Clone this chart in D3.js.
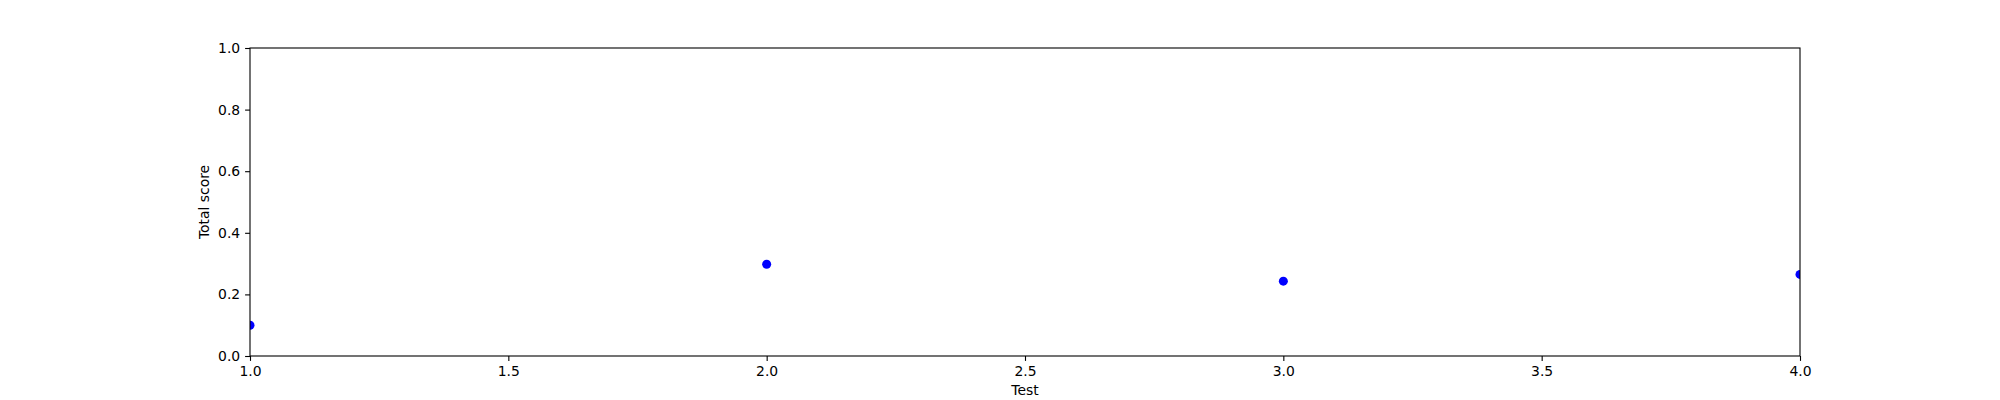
<!DOCTYPE html>
<html><head><meta charset="utf-8">
<script src="https://d3js.org/d3.v7.min.js"></script>
<style>body{margin:0;background:#fff}svg{display:block}text{font-family:"DejaVu Sans",sans-serif;}</style>
</head><body>
<script>
const tests = [1, 2, 3, 4];
const scores = [0.100, 0.298, 0.243, 0.265];
const xTicks = [1.0, 1.5, 2.0, 2.5, 3.0, 3.5, 4.0];
const yTicks = [0.0, 0.2, 0.4, 0.6, 0.8, 1.0];

const W = 2000, H = 400;
const m = {left: 250, right: 200, top: 48, bottom: 44};
const svg = d3.select("body").append("svg").attr("width", W).attr("height", H);
const x = d3.scaleLinear().domain([1, 4]).range([m.left, W - m.right]);
const y = d3.scaleLinear().domain([0, 1]).range([H - m.bottom, m.top]);

svg.append("clipPath").attr("id", "plotclip").append("rect")
  .attr("x", m.left).attr("y", m.top)
  .attr("width", W - m.left - m.right).attr("height", H - m.top - m.bottom);

svg.append("g").attr("clip-path", "url(#plotclip)").selectAll("circle").data(tests).join("circle")
  .attr("cx", (d) => x(d)).attr("cy", (d, i) => y(scores[i])).attr("r", 4.5).attr("fill", "#0000ff");

const xa = svg.append("g").attr("transform", `translate(0,${H - m.bottom})`)
  .call(d3.axisBottom(x).tickValues(xTicks).tickFormat(d3.format(".1f")).tickSizeOuter(0).tickSize(4.9).tickPadding(4.9));
const ya = svg.append("g").attr("transform", `translate(${m.left},0)`)
  .call(d3.axisLeft(y).tickValues(yTicks).tickFormat(d3.format(".1f")).tickSizeOuter(0).tickSize(4.9).tickPadding(4.9));
[xa, ya].forEach(g => {
  g.selectAll("text").attr("font-size", 13.9).attr("fill", "#000").attr("font-family", '"DejaVu Sans",sans-serif');
  g.selectAll("line").attr("stroke", "#000").attr("stroke-width", 1.1);
  g.select(".domain").remove();
});
svg.append("rect").attr("x", m.left).attr("y", m.top)
  .attr("width", W - m.left - m.right).attr("height", H - m.top - m.bottom)
  .attr("fill", "none").attr("stroke", "#000").attr("stroke-width", 1.1);

svg.append("text").attr("x", (m.left + W - m.right) / 2).attr("y", 395)
  .attr("text-anchor", "middle").attr("font-size", 13.9).text("Test");
svg.append("text").attr("transform", `translate(209,${(m.top + H - m.bottom) / 2}) rotate(-90)`)
  .attr("text-anchor", "middle").attr("font-size", 13.9).text("Total score");
</script>
</body></html>
